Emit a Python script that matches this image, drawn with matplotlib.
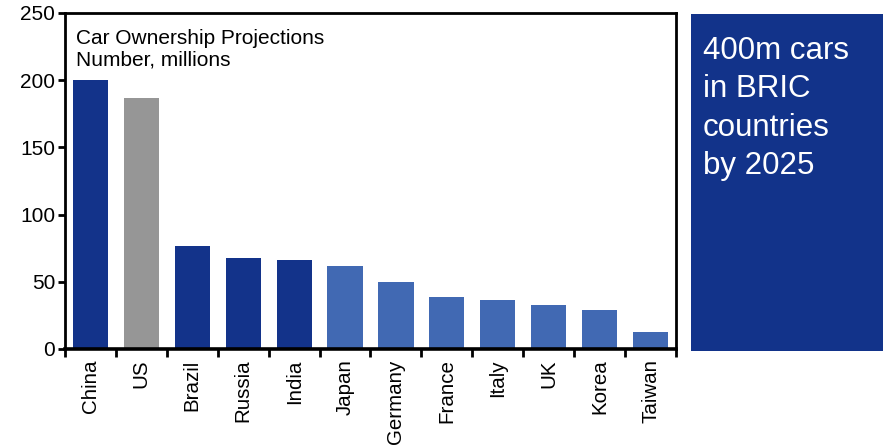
import matplotlib
matplotlib.use("Agg")
import matplotlib.pyplot as plt
from matplotlib.patches import Rectangle
from matplotlib.ticker import FixedLocator, NullFormatter

plt.rcParams['font.family'] = ['Liberation Sans', 'DejaVu Sans']

countries = ["China", "US", "Brazil", "Russia", "India", "Japan",
             "Germany", "France", "Italy", "UK", "Korea", "Taiwan"]
cars_millions = [200, 187, 77, 68, 66.5, 62, 50, 39, 36.5, 33, 29, 13]
groups = ["bric", "us", "bric", "bric", "bric", "other",
          "other", "other", "other", "other", "other", "other"]
group_colors = {"bric": "#13338A", "us": "#969696", "other": "#4169B3"}

W, H = 883, 447
fig = plt.figure(figsize=(W / 100, H / 100), dpi=100)

ax_l, ax_r, ax_t, ax_b = 65, 676, 13, 349
ax = fig.add_axes([ax_l / W, 1 - ax_b / H, (ax_r - ax_l) / W, (ax_b - ax_t) / H])

x = list(range(len(countries)))
ax.bar(x, cars_millions, width=0.69, color=[group_colors[g] for g in groups],
       edgecolor="none", zorder=2)

ax.set_xlim(-0.5, len(countries) - 0.5)
ax.set_ylim(0, 250)
ax.set_yticks([0, 50, 100, 150, 200, 250])

# Ticks on category boundaries, labels at the centres
ax.xaxis.set_major_locator(FixedLocator([i - 0.5 for i in range(len(countries) + 1)]))
ax.xaxis.set_major_formatter(NullFormatter())
ax.xaxis.set_minor_locator(FixedLocator(x))
ax.set_xticklabels(countries, minor=True, rotation=90, fontsize=14.8, va="top", ha="center")
ax.tick_params(axis="x", which="minor", length=0, pad=7.5)
ax.tick_params(axis="x", which="major", direction="out", length=6, width=2)
ax.tick_params(axis="y", direction="out", length=5, width=2, labelsize=15, pad=2)

for side in ["left", "right", "top"]:
    ax.spines[side].set_linewidth(2)
ax.spines["bottom"].set_linewidth(2.6)

ax.text(0.018, 0.952, "Car Ownership Projections\nNumber, millions",
        transform=ax.transAxes, ha="left", va="top", fontsize=15,
        linespacing=1.14, color="black")

# Side panel with the headline
box_l, box_t, box_b = 691, 14, 351
fig.patches.append(Rectangle((box_l / W, 1 - box_b / H), (W - box_l) / W,
                             (box_b - box_t) / H, transform=fig.transFigure,
                             facecolor="#12338A", edgecolor="none", zorder=0))
fig.text(703 / W, 1 - 36 / H, "400m cars\nin BRIC\ncountries\nby 2025",
         ha="left", va="top", fontsize=22.5, color="white", linespacing=1.36)

fig.savefig("out.png", dpi=100)
